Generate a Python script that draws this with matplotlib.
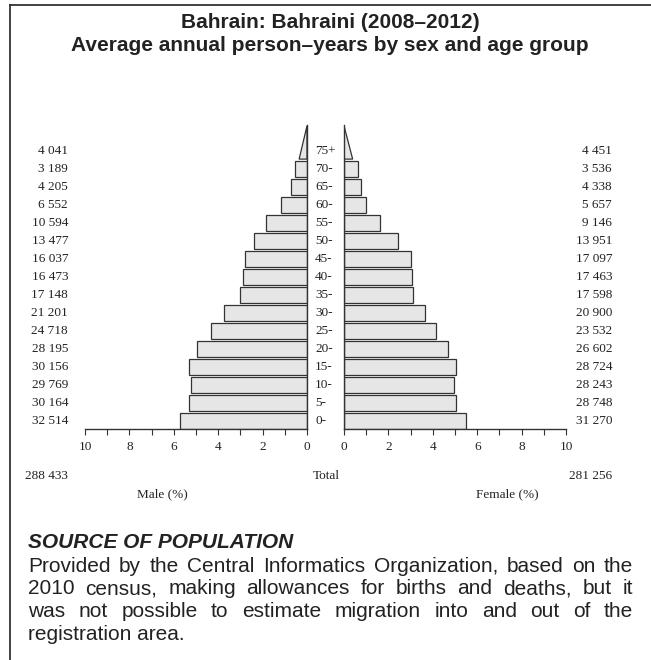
import numpy as np
import matplotlib
matplotlib.use("Agg")
import matplotlib.pyplot as plt
from matplotlib.patches import Polygon
from matplotlib.lines import Line2D

# ---- DATA ----
age_groups = ["0-", "5-", "10-", "15-", "20-", "25-", "30-", "35-",
              "40-", "45-", "50-", "55-", "60-", "65-", "70-", "75+"]
male = [32514, 30164, 29769, 30156, 28195, 24718, 21201, 17148,
        16473, 16037, 13477, 10594, 6552, 4205, 3189, 4041]
female = [31270, 28748, 28243, 28724, 26602, 23532, 20900, 17598,
          17463, 17097, 13951, 9146, 5657, 4338, 3536, 4451]

title_lines = ["Bahrain: Bahraini (2008\u20132012)",
               "Average annual person\u2013years by sex and age group"]
source_head = "SOURCE OF POPULATION"
source_lines = [
    "Provided by the Central Informatics Organization, based on the",
    "2010 census, making allowances for births and deaths, but it",
    "was not possible to estimate migration into and out of the",
    "registration area.",
]

W, H = 651, 660
SERIF = "Liberation Serif"
SANS = "Liberation Sans"
INK = "#222222"


def fx(x):
    return x / W


def fy(y):
    return 1 - y / H


def fmt(n):
    return f"{n:,}".replace(",", " ")


grand = sum(male) + sum(female)
male_pct = np.array(male) / grand * 100
female_pct = np.array(female) / grand * 100
ypos = np.arange(len(age_groups))

fig = plt.figure(figsize=(W / 100, H / 100), dpi=100)

# frame: top and left only
fig.add_artist(Line2D([fx(10), 1], [fy(5), fy(5)], color="#333333", lw=1.3))
fig.add_artist(Line2D([fx(10), fx(10)], [fy(5), 0], color="#333333", lw=1.3))

for k, line in enumerate(title_lines):
    fig.text(fx(330), fy(28 + k * 23), line, ha="center", va="baseline",
             fontsize=15, fontweight="bold", family=SANS, color=INK)

# ---- pyramid ----
row_px = 18
y0_px = 421          # centre of the 0- row
ylo, yhi = -0.47, 16.45
ax_bottom = y0_px - ylo * row_px
ax_top = y0_px - yhi * row_px
ax_h = (ax_bottom - ax_top) / H

axL = fig.add_axes([fx(85), fy(ax_bottom), fx(307 - 85), ax_h])
axR = fig.add_axes([fx(344), fy(ax_bottom), fx(566 - 344), ax_h])

bar_kw = dict(height=0.9, color="#e6e6e6", edgecolor="#333333", linewidth=0.9)
tri_scale = 0.5   # open-ended group drawn as a wedge
for ax, pct in [(axL, male_pct), (axR, female_pct)]:
    ax.barh(ypos[:-1], pct[:-1], **bar_kw)
    base = ypos[-1] - 0.45
    tri = Polygon([[0, base], [pct[-1] * tri_scale, base], [0, 16.4]],
                  closed=True, facecolor="#e6e6e6", edgecolor="#333333",
                  linewidth=0.9)
    ax.add_patch(tri)
    ax.set_ylim(ylo, yhi)
    ax.set_yticks([])
    ax.set_xticks(np.arange(0, 11, 2))
    ax.set_xticks(np.arange(0, 11, 1), minor=True)
    ax.tick_params(axis="x", which="both", direction="out", length=4,
                   width=0.8, color="#333333", labelsize=9.5, pad=4,
                   labelcolor=INK)
    for lab in ax.get_xticklabels():
        lab.set_family(SERIF)
    ax.spines["top"].set_visible(False)
    for s in ax.spines.values():
        s.set_linewidth(1.0)
        s.set_color("#333333")
    ax.patch.set_visible(False)

axL.set_xlim(10, 0)
axL.spines["left"].set_visible(False)
axR.set_xlim(0, 10)
axR.spines["right"].set_visible(False)

lab_kw = dict(va="center", fontsize=9.5, family=SERIF, color=INK)
for i, g in enumerate(age_groups):
    ypx = y0_px - i * row_px
    fig.text(fx(315), fy(ypx), g, ha="left", **lab_kw)
    fig.text(fx(68), fy(ypx), fmt(male[i]), ha="right", **lab_kw)
    fig.text(fx(612), fy(ypx), fmt(female[i]), ha="right", **lab_kw)

fig.text(fx(68), fy(476), fmt(sum(male)), ha="right", **lab_kw)
fig.text(fx(612), fy(476), fmt(sum(female)), ha="right", **lab_kw)
fig.text(fx(326), fy(476), "Total", ha="center", **lab_kw)
fig.text(fx(162), fy(494), "Male (%)", ha="center", **lab_kw)
fig.text(fx(507), fy(494), "Female (%)", ha="center", **lab_kw)

# ---- source note (justified) ----
fig.text(fx(28), fy(548), source_head, ha="left", va="baseline", fontsize=15,
         fontweight="bold", style="italic", family=SANS, color=INK)

renderer = fig.canvas.get_renderer()
x_left, x_right = 28, 633
body_kw = dict(ha="left", va="baseline", fontsize=15, family=SANS, color=INK)
for k, line in enumerate(source_lines):
    ybase = 572 + k * 22.5
    if k == len(source_lines) - 1:
        fig.text(fx(x_left), fy(ybase), line, **body_kw)
        continue
    words = line.split()
    texts = [fig.text(fx(x_left), fy(ybase), w, **body_kw) for w in words]
    widths = [t.get_window_extent(renderer).width for t in texts]
    gap = (x_right - x_left - sum(widths)) / (len(words) - 1)
    x = x_left
    for t, w in zip(texts, widths):
        t.set_x(fx(x))
        x += w + gap

fig.savefig("out.png", dpi=100)
